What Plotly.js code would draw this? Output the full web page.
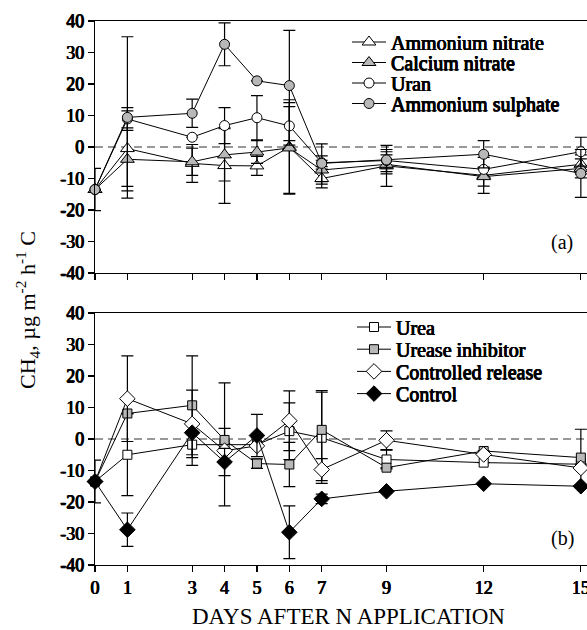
<!DOCTYPE html>
<html>
<head>
<meta charset="utf-8">
<script src="https://cdn.plot.ly/plotly-3.0.1.min.js"></script>
<style>html,body{margin:0;padding:0;background:#fff;}#chart{width:587px;height:630px;}</style>
</head>
<body>
<div id="chart"></div>
<script>
// ---- data ----
var days = [0, 1, 3, 4, 5, 6, 7, 9, 12, 15];
var dayTicks = [0, 1, 3, 4, 5, 6, 7, 9, 12, 15];
var yTicks = [-40, -30, -20, -10, 0, 10, 20, 30, 40];

// panel (a)
var ammNitrate       = [-13.5, -0.5, -5.2, -5.9, -6.0, 0.0, -10.0, -6.0, -9.0, -5.5];
var ammNitrateErr    = [0, 12, 6, 12, 3, 15, 3, 6.5, 5.7, 3];
var calNitrate       = [-13.5, -3.9, -4.7, -2.5, -1.6, -0.3, -7.3, -5.5, -9.4, -6.8];
var calNitrateErr    = [0, 10, 4.3, 8.3, 3.6, 14.4, 4.5, 3, 3, 3];
var uran             = [-13.5, 8.9, 3.1, 6.8, 9.3, 6.7, -5.0, -4.3, -7.1, -1.5];
var uranErr          = [0, 3.6, 0, 5.7, 7.0, 6.1, 6.0, 3.5, 0, 4.6];
var ammSulphate      = [-13.5, 9.4, 10.7, 32.6, 21.0, 19.5, -5.2, -4.1, -2.3, -8.4];
var ammSulphateErr   = [6.7, 25.6, 4.5, 6.8, 0, 17.5, 1, 2.6, 4.3, 7.6];

// panel (b)
var urea             = [-13.5, -5.0, -1.8, -1.7, -1.8, 2.5, 0.4, -6.5, -7.5, -8.0];
var ureaErr          = [6.8, 13, 6.6, 19.5, 0, 9, 14.5, 3, 0, 0];
var urease           = [-13.5, 8.1, 10.7, -0.3, -7.8, -8.1, 2.9, -9.1, -3.8, -5.9];
var ureaseErr        = [0, 0, 15.7, 3.7, 1.5, 7, 12.5, 0, 0, 9];
var controlled       = [-13.5, 12.8, 4.8, -3.7, -2.2, 5.8, -9.7, -0.4, -4.9, -9.2];
var controlledErr    = [0, 13.6, 10.7, 0, 0, 9.5, 3.5, 3, 0, 0];
var control          = [-13.5, -28.8, 2.0, -7.3, 1.1, -29.6, -19.0, -16.6, -14.2, -15.0];
var controlErr       = [0, 5.3, 0, 4.3, 6.7, 8.4, 1.5, 0, 0, 0];

var names = ['Ammonium nitrate', 'Calcium nitrate', 'Uran', 'Ammonium sulphate',
             'Urea', 'Urease inhibitor', 'Controlled release', 'Control'];

// ---- styling ----
var GRAY = '#b8b8b8';
var SERIF = 'Liberation Serif';
// emboldening of the regular serif face
var FAKE_BOLD = '0.5px 0 0 #000, -0.4px 0 0 #000, 0 0.3px 0 #000';

var legendIds = ['legend', 'legend2', 'legend3', 'legend4', 'legend5', 'legend6', 'legend7', 'legend8'];

function tr(idx, y, err, symbol, fill, size, panel) {
  return {
    x: days, y: y, name: names[idx], type: 'scatter', mode: 'lines+markers',
    xaxis: panel === 1 ? 'x' : 'x2', yaxis: panel === 1 ? 'y' : 'y2',
    legend: legendIds[idx],
    cliponaxis: false,
    line: {color: '#000', width: 1},
    marker: {symbol: symbol, size: size, color: fill, line: {color: '#000', width: 1}},
    error_y: {type: 'data', array: err, visible: true, color: '#000', thickness: 1.2, width: 6}
  };
}

var data = [
  tr(0, ammNitrate, ammNitrateErr, 'triangle-up', '#fff', 12, 1),
  tr(1, calNitrate, calNitrateErr, 'triangle-up', GRAY, 12, 1),
  tr(2, uran, uranErr, 'circle', '#fff', 10, 1),
  tr(3, ammSulphate, ammSulphateErr, 'circle', GRAY, 10, 1),
  tr(4, urea, ureaErr, 'square', '#fff', 9, 2),
  tr(5, urease, ureaseErr, 'square', GRAY, 9, 2),
  tr(6, controlled, controlledErr, 'diamond', '#fff', 12, 2),
  tr(7, control, controlErr, 'diamond', '#000', 12, 2)
];

function xax(showLabels, anchor) {
  return {
    domain: [95 / 587, 1], range: [0, 15.19], anchor: anchor,
    tickmode: 'array', tickvals: dayTicks, ticktext: dayTicks.map(String),
    showticklabels: showLabels, ticks: 'outside', ticklen: 6, tickwidth: 1.2, tickcolor: '#000',
    ticklabeloverflow: 'allow',
    showline: true, linecolor: '#000', linewidth: 1.2, mirror: true,
    showgrid: false, zeroline: false,
    tickfont: {family: SERIF, size: 18, color: '#000', shadow: FAKE_BOLD}
  };
}
function yax(dom, anchor) {
  return {
    domain: dom, range: [-40, 40], anchor: anchor,
    tickmode: 'array', tickvals: yTicks, ticktext: yTicks.map(String),
    ticks: 'outside', ticklen: 6, tickwidth: 1.2, tickcolor: '#000',
    showline: true, linecolor: '#000', linewidth: 1.2,
    showgrid: false, zeroline: false,
    tickfont: {family: SERIF, size: 18, color: '#000', shadow: FAKE_BOLD}
  };
}

var legendFont = {family: SERIF, size: 20, color: '#000', shadow: FAKE_BOLD};
// legend row centres (px from top) and left edges
var legendRowY = [42, 62.5, 83, 103.5, 327, 349.2, 371.4, 393.6];
var legendLeft = [347, 347, 347, 347, 352, 352, 352, 352];

var layout = {
  width: 587, height: 630,
  margin: {l: 0, r: 0, t: 0, b: 0},
  paper_bgcolor: '#fff', plot_bgcolor: '#fff',
  showlegend: true,
  xaxis: xax(false, 'y'),
  yaxis: yax([1 - 273 / 630, 1 - 21 / 630], 'x'),
  xaxis2: xax(true, 'y2'),
  yaxis2: yax([1 - 565 / 630, 1 - 313 / 630], 'x2'),
  shapes: [
    {type: 'line', xref: 'x domain', yref: 'y', x0: 0, x1: 1, y0: 0, y1: 0,
     line: {color: '#333', width: 1.2, dash: '8px,5px'}, layer: 'below'},
    {type: 'line', xref: 'x2 domain', yref: 'y2', x0: 0, x1: 1, y0: 0, y1: 0,
     line: {color: '#333', width: 1.2, dash: '8px,5px'}, layer: 'below'}
  ],
  annotations: [
    {text: '(a)', xref: 'paper', yref: 'paper', x: 562 / 587, y: 1 - 243 / 630,
     xanchor: 'center', yanchor: 'middle',
     showarrow: false, font: {family: SERIF, size: 20, color: '#000'}},
    {text: '(b)', xref: 'paper', yref: 'paper', x: 562 / 587, y: 1 - 538 / 630,
     xanchor: 'center', yanchor: 'middle',
     showarrow: false, font: {family: SERIF, size: 20, color: '#000'}},
    {text: 'CH<sub>4</sub>, µg m<sup>-2</sup> h<sup>-1</sup> C', xref: 'paper', yref: 'paper',
     x: 27 / 587, y: 1 - 310 / 630, textangle: -90, showarrow: false,
     xanchor: 'center', yanchor: 'middle',
     font: {family: SERIF, size: 22, color: '#000'}},
    {text: 'DAYS AFTER N APPLICATION', xref: 'paper', yref: 'paper',
     x: 348 / 587, y: 1 - 616 / 630, showarrow: false,
     xanchor: 'center', yanchor: 'middle',
     font: {family: SERIF, size: 23, color: '#000'}}
  ]
};

legendIds.forEach(function (id, i) {
  layout[id] = {
    x: legendLeft[i] / 587, y: 1 - (legendRowY[i] - 19.5) / 630,
    xanchor: 'left', yanchor: 'top', bgcolor: 'rgba(0,0,0,0)',
    font: legendFont, itemwidth: 34
  };
});

Plotly.newPlot('chart', data, layout, {staticPlot: true, displayModeBar: false});
</script>
</body>
</html>
